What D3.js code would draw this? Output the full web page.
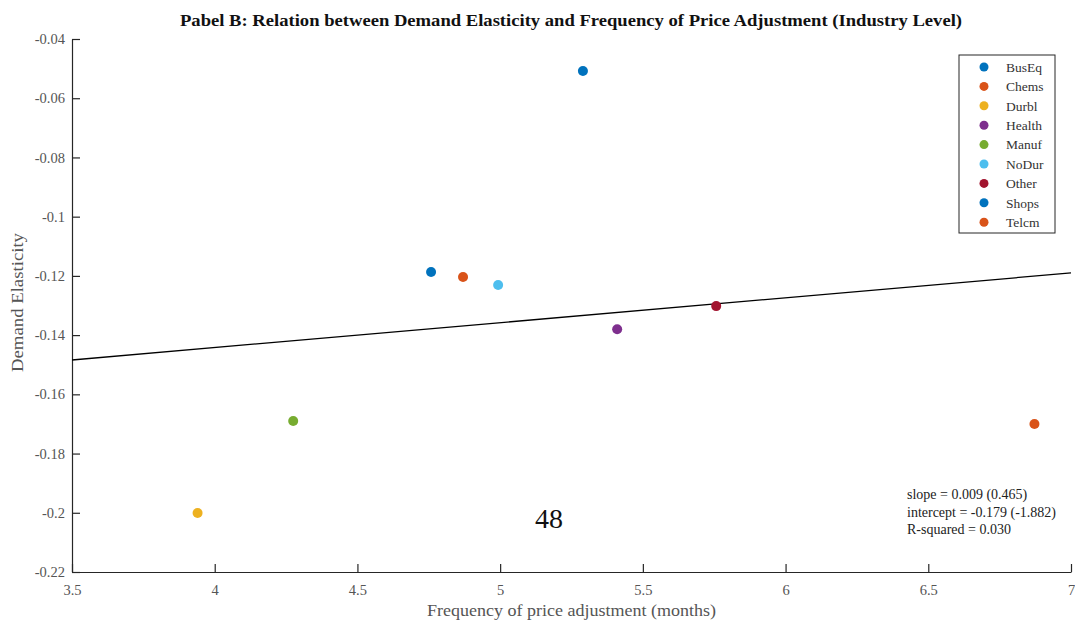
<!DOCTYPE html>
<html>
<head>
<meta charset="utf-8">
<script src="https://cdn.jsdelivr.net/npm/d3@7"></script>
<style>
  body { margin: 0; background: #fff; }
  svg text { font-family: "Liberation Serif", "DejaVu Serif", serif; }
</style>
</head>
<body>
<div id="chart"></div>
<script>
const industries = ["BusEq", "Chems", "Durbl", "Health", "Manuf", "NoDur", "Other", "Shops", "Telcm"];
const frequency = [5.29, 4.87, 3.94, 5.41, 4.275, 4.993, 5.757, 4.758, 6.872];
const elasticity = [-0.0508, -0.1204, -0.2001, -0.138, -0.169, -0.1231, -0.1302, -0.1187, -0.1700];
const colors = ["#0072BD", "#D95319", "#EDB120", "#7E2F8E", "#77AC30", "#4DBEEE", "#A2142F", "#0072BD", "#D95319"];

const fitX = [3.5, 7];
const fitY = [-0.1484, -0.1190];

const xTicks = [3.5, 4, 4.5, 5, 5.5, 6, 6.5, 7];
const yTicks = [-0.04, -0.06, -0.08, -0.1, -0.12, -0.14, -0.16, -0.18, -0.2, -0.22];
const stats = ["slope = 0.009 (0.465)", "intercept = -0.179 (-1.882)", "R-squared = 0.030"];

const width = 1075;
const height = 623;
const margin = {top: 39, right: 4, bottom: 51, left: 72};

const data = industries.map((name, i) => ({name, x: frequency[i], y: elasticity[i], color: colors[i]}));

const svg = d3.select("#chart")
    .append("svg")
    .attr("width", width)
    .attr("height", height);

const xScale = d3.scaleLinear()
    .domain([3.5, 7])
    .range([margin.left, width - margin.right]);

const yScale = d3.scaleLinear()
    .domain([-0.22, -0.04])
    .range([height - margin.bottom, margin.top]);

const fmt = d => String(+d.toFixed(2));

// axes, ticks pointing inward like matlab
const xAxis = svg.append("g")
    .attr("transform", `translate(0,${height - margin.bottom})`)
    .call(d3.axisBottom(xScale).tickValues(xTicks).tickFormat(fmt).tickSizeInner(-8).tickSizeOuter(0).tickPadding(13));

const yAxis = svg.append("g")
    .attr("transform", `translate(${margin.left},0)`)
    .call(d3.axisLeft(yScale).tickValues(yTicks).tickFormat(fmt).tickSizeInner(-8).tickSizeOuter(0).tickPadding(7));

[xAxis, yAxis].forEach(a => {
  a.attr("font-family", null).attr("font-size", null);
  a.select(".domain").attr("stroke", "#262626").attr("stroke-width", 1.2);
  a.selectAll(".tick line").attr("stroke", "#262626").attr("stroke-width", 1.2);
  a.selectAll(".tick text").attr("fill", "#555").style("font-size", "14.5px");
});

// fit line
svg.append("line")
    .attr("x1", xScale(fitX[0]))
    .attr("y1", yScale(fitY[0]))
    .attr("x2", xScale(fitX[1]))
    .attr("y2", yScale(fitY[1]))
    .attr("stroke", "#000")
    .attr("stroke-width", 1.3);

svg.selectAll("circle.pt")
    .data(data)
    .join("circle")
    .attr("class", "pt")
    .attr("r", 5)
    .attr("cx", d => xScale(d.x))
    .attr("cy", d => yScale(d.y))
    .attr("fill", d => d.color);

// title
svg.append("text")
    .attr("x", 180)
    .attr("y", 26)
    .attr("textLength", 782)
    .attr("lengthAdjust", "spacingAndGlyphs")
    .style("font-size", "16px")
    .style("font-weight", "bold")
    .attr("fill", "#111")
    .text("Pabel B: Relation between Demand Elasticity and Frequency of Price Adjustment (Industry Level)");

svg.append("text")
    .attr("x", 427)
    .attr("y", 616)
    .attr("textLength", 289)
    .attr("lengthAdjust", "spacingAndGlyphs")
    .style("font-size", "17px")
    .attr("fill", "#555")
    .text("Frequency of price adjustment (months)");

svg.append("text")
    .attr("transform", "translate(23,372) rotate(-90)")
    .attr("textLength", 139)
    .attr("lengthAdjust", "spacingAndGlyphs")
    .style("font-size", "17px")
    .attr("fill", "#555")
    .text("Demand Elasticity");

// legend
const legend = svg.append("g").attr("transform", "translate(959,55)");
legend.append("rect")
    .attr("width", 96)
    .attr("height", 178)
    .attr("fill", "#fff")
    .attr("stroke", "#262626")
    .attr("stroke-width", 1);

const item = legend.selectAll("g.item")
    .data(data)
    .join("g")
    .attr("class", "item")
    .attr("transform", (d, i) => `translate(0,${12 + i * 19.4})`);

item.append("circle")
    .attr("cx", 25)
    .attr("r", 4.5)
    .attr("fill", d => d.color);

item.append("text")
    .attr("x", 47)
    .attr("dy", "0.35em")
    .style("font-size", "13.5px")
    .attr("fill", "#333")
    .text(d => d.name);

// regression stats
svg.append("g")
    .selectAll("text")
    .data(stats)
    .join("text")
    .attr("x", 907)
    .attr("y", (d, i) => 499 + i * 17.5)
    .style("font-size", "14px")
    .attr("fill", "#222")
    .text(d => d);

// page number
svg.append("text")
    .attr("x", 549)
    .attr("y", 528)
    .attr("text-anchor", "middle")
    .style("font-size", "28px")
    .attr("fill", "#111")
    .text("48");
</script>
</body>
</html>
